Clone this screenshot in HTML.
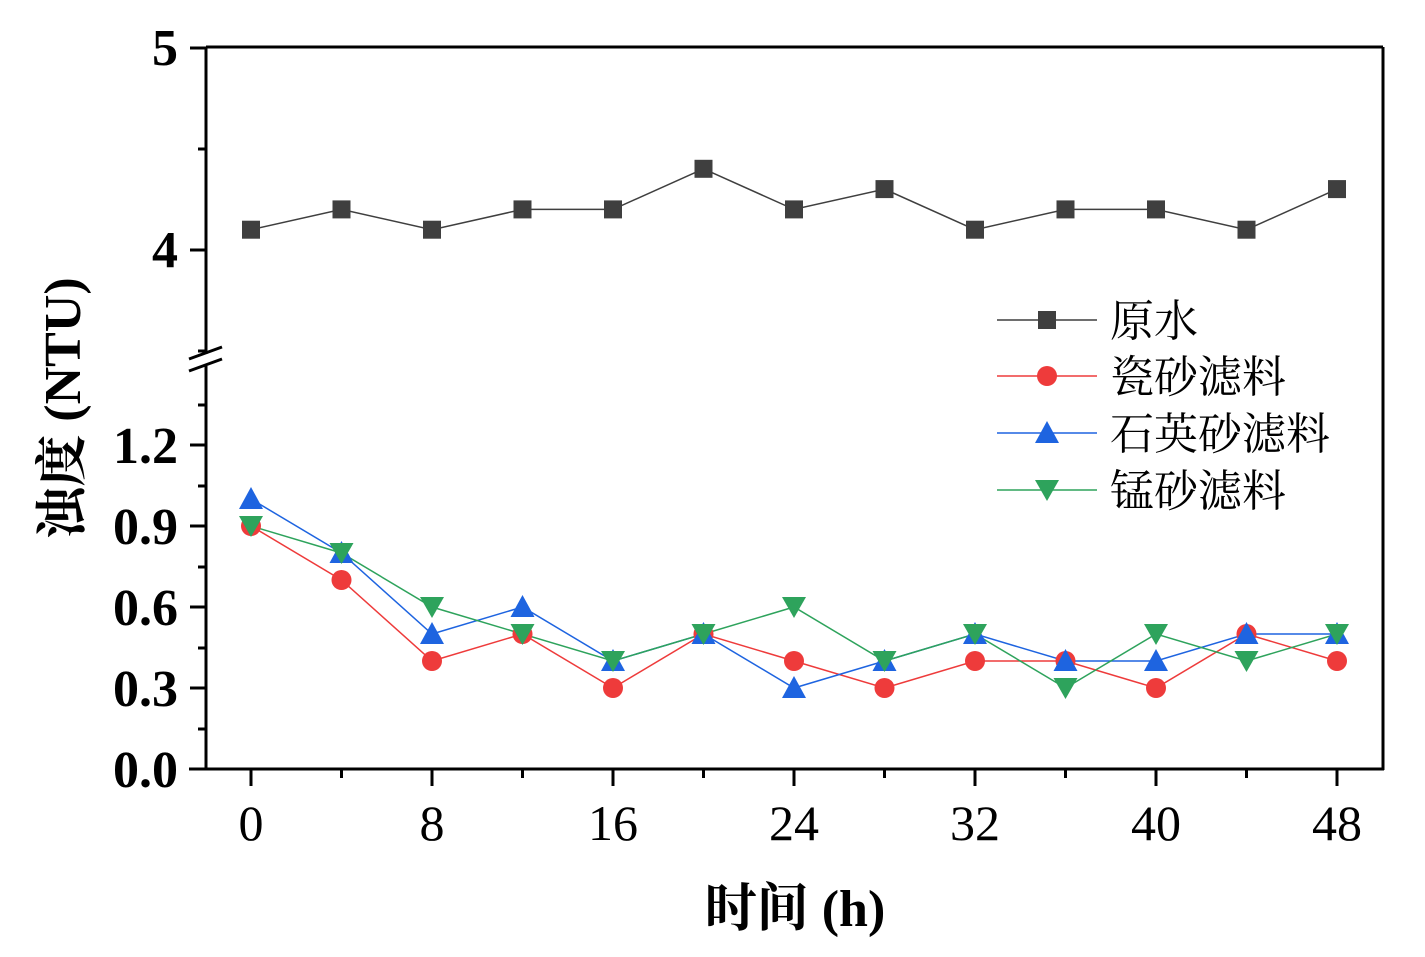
<!DOCTYPE html>
<html><head><meta charset="utf-8"><style>
html,body{margin:0;padding:0;background:#fff}
svg{display:block}
.yt{font-family:"Liberation Serif","Noto Serif CJK SC",serif;font-weight:bold;font-size:52px}
.xt{font-family:"Liberation Serif","Noto Serif CJK SC",serif;font-size:50px}
.lg{font-family:"Liberation Serif","Noto Serif CJK SC",serif;font-size:44px}
.ax{font-family:"Liberation Serif","Noto Serif CJK SC",serif;font-weight:bold;font-size:52px}
</style></head><body>
<svg width="1425" height="957" xmlns="http://www.w3.org/2000/svg">
<rect width="1425" height="957" fill="#fff"/>
<g id="plot"></g>
<g stroke="#000" stroke-width="3" fill="none">
<line x1="206" y1="47" x2="1383" y2="47"/>
<line x1="1383" y1="47" x2="1383" y2="770"/>
<line x1="189" y1="769" x2="1384" y2="769"/>
<line x1="206" y1="47" x2="206" y2="769"/>
<line x1="190" y1="48" x2="206" y2="48"/>
<line x1="198" y1="149" x2="206" y2="149"/>
<line x1="190" y1="250" x2="206" y2="250"/>
<line x1="198" y1="351" x2="206" y2="351"/>
<line x1="198" y1="405" x2="206" y2="405"/>
<line x1="190" y1="445" x2="206" y2="445"/>
<line x1="198" y1="486" x2="206" y2="486"/>
<line x1="190" y1="526" x2="206" y2="526"/>
<line x1="198" y1="567" x2="206" y2="567"/>
<line x1="190" y1="607" x2="206" y2="607"/>
<line x1="198" y1="648" x2="206" y2="648"/>
<line x1="190" y1="688" x2="206" y2="688"/>
<line x1="198" y1="729" x2="206" y2="729"/>
</g>
<rect x="195" y="354" width="20" height="12" fill="#fff"/>
<g stroke="#000" stroke-width="3">
<line x1="189" y1="359" x2="222" y2="347"/>
<line x1="189" y1="371" x2="222" y2="359"/>
</g>
<g stroke="#000" stroke-width="3" id="xt"></g>
<g class="yt" text-anchor="end">
<text x="178" y="65">5</text>
<text x="178" y="267">4</text>
<text x="178" y="463">1.2</text>
<text x="178" y="544">0.9</text>
<text x="178" y="625">0.6</text>
<text x="178" y="706">0.3</text>
<text x="178" y="787">0.0</text>
</g>
<g class="xt" text-anchor="middle">
<text x="251" y="840">0</text>
<text x="432" y="840">8</text>
<text x="613" y="840">16</text>
<text x="794" y="840">24</text>
<text x="975" y="840">32</text>
<text x="1156" y="840">40</text>
<text x="1337" y="840">48</text>
</g>
<text class="ax" x="795" y="926" text-anchor="middle">时间 (h)</text>
<text class="ax" transform="translate(80,408) rotate(-90)" text-anchor="middle">浊度 (NTU)</text>
<g stroke-width="1.5">
<line x1="997" y1="320" x2="1097" y2="320" stroke="#3f3f3f"/>
<line x1="997" y1="376" x2="1097" y2="376" stroke="#ee3b3b"/>
<line x1="997" y1="433" x2="1097" y2="433" stroke="#1e64e0"/>
<line x1="997" y1="490" x2="1097" y2="490" stroke="#2ea35c"/>
</g>
<rect x="1038" y="311" width="18" height="18" fill="#3f3f3f"/>
<circle cx="1047" cy="376" r="10" fill="#ee3b3b"/>
<polygon points="1047,421 1059,443 1035,443" fill="#1e64e0"/>
<polygon points="1047,501 1059,480 1035,480" fill="#2ea35c"/>
<g class="lg">
<text x="1110" y="336">原水</text>
<text x="1110" y="392">瓷砂滤料</text>
<text x="1110" y="449">石英砂滤料</text>
<text x="1110" y="506">锰砂滤料</text>
</g>
<script>
(function(){
var ns="http://www.w3.org/2000/svg";
var xt=document.getElementById("xt");
for(var i=0;i<=12;i++){var x=251+i*90.5;var l=document.createElementNS(ns,"line");
l.setAttribute("x1",x);l.setAttribute("x2",x);l.setAttribute("y1",769);l.setAttribute("y2",i%2?778:786);xt.appendChild(l);}
var g=document.getElementById("plot");
function X(i){return 251+i*90.5;}
function U(v){return 250-(v-4)*203;}
function L(v){return 769-v*270;}
var S=[
{c:"#3f3f3f",m:"s",f:U,d:[4.1,4.2,4.1,4.2,4.2,4.4,4.2,4.3,4.1,4.2,4.2,4.1,4.3]},
{c:"#ee3b3b",m:"c",f:L,d:[0.9,0.7,0.4,0.5,0.3,0.5,0.4,0.3,0.4,0.4,0.3,0.5,0.4]},
{c:"#1e64e0",m:"u",f:L,d:[1.0,0.8,0.5,0.6,0.4,0.5,0.3,0.4,0.5,0.4,0.4,0.5,0.5]},
{c:"#2ea35c",m:"d",f:L,d:[0.9,0.8,0.6,0.5,0.4,0.5,0.6,0.4,0.5,0.3,0.5,0.4,0.5]}];
S.forEach(function(s){
var pts=s.d.map(function(v,i){return X(i)+","+s.f(v);}).join(" ");
var pl=document.createElementNS(ns,"polyline");pl.setAttribute("points",pts);pl.setAttribute("fill","none");pl.setAttribute("stroke",s.c);pl.setAttribute("stroke-width","1.5");g.appendChild(pl);
});
S.forEach(function(s){
s.d.forEach(function(v,i){var x=X(i),y=s.f(v),e;
if(s.m=="s"){e=document.createElementNS(ns,"rect");e.setAttribute("x",x-9);e.setAttribute("y",y-9);e.setAttribute("width",18);e.setAttribute("height",18);}
else if(s.m=="c"){e=document.createElementNS(ns,"circle");e.setAttribute("cx",x);e.setAttribute("cy",y);e.setAttribute("r",10);}
else if(s.m=="u"){e=document.createElementNS(ns,"polygon");e.setAttribute("points",x+","+(y-12)+" "+(x+12)+","+(y+10)+" "+(x-12)+","+(y+10));}
else{e=document.createElementNS(ns,"polygon");e.setAttribute("points",x+","+(y+11)+" "+(x+12)+","+(y-10)+" "+(x-12)+","+(y-10));}
e.setAttribute("fill",s.c);g.appendChild(e);});
});
})();
</script>
</svg>
</body></html>
